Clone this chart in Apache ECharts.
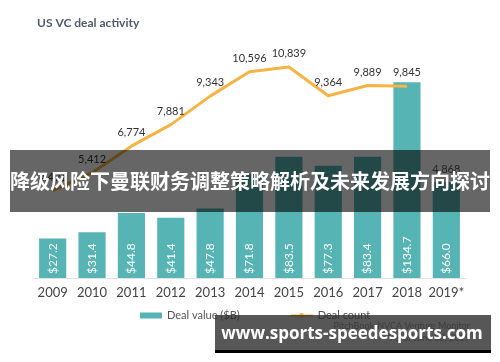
<!DOCTYPE html>
<html><head><meta charset="utf-8">
<script src="https://cdn.jsdelivr.net/npm/echarts@6/dist/echarts.min.js"></script>
<style>html,body{margin:0;padding:0;background:#fff}#c{width:500px;height:362px}</style>
</head><body><div id="c"></div>
<script>
const years = ['2009','2010','2011','2012','2013','2014','2015','2016','2017','2018','2019*'];
const dealValue = [27.2,31.4,44.8,41.4,47.8,71.8,83.5,77.3,83.4,134.7,66.0];
const dealCount = [4491,5412,6774,7881,9343,10596,10839,9364,9889,9845,null];
const dealCount2019 = [null,null,null,null,null,null,null,null,null,null,4868];

const chart = echarts.init(document.getElementById('c'));
const fnt = 'Lato, "Noto Sans", sans-serif';
const cntLabel = {show:true,position:'top',distance:8,formatter:p=>p.value.toLocaleString('en-US'),color:'#333',fontFamily:fnt,fontSize:11};
chart.setOption({
  animation:false,
  title:{text:'US VC deal activity',left:32,top:12,textStyle:{fontFamily:fnt,fontSize:12,fontWeight:'bold',color:'#505a6b'}},
  legend:{bottom:36,left:135,itemGap:50,itemWidth:22,itemHeight:6,textStyle:{fontFamily:fnt,fontSize:11,color:'#555'},
    data:[{name:'Deal value ($B)',icon:'rect'},{name:'Deal count'}]},
  grid:{left:33,right:34,top:60,bottom:84},
  xAxis:{type:'category',data:years,axisTick:{show:false},axisLine:{lineStyle:{color:'#e2e2e2'}},
    axisLabel:{interval:0,fontFamily:fnt,fontSize:13,color:'#444',margin:8}},
  yAxis:[{type:'value',min:0,max:150,show:false,splitLine:{show:false}},
         {type:'value',min:0,max:11200,show:false,splitLine:{show:false}}],
  series:[
    {name:'Deal value ($B)',type:'bar',data:dealValue,barWidth:'69%',itemStyle:{color:'#57b4b4'},
      label:{show:true,position:'insideBottom',rotate:90,align:'left',verticalAlign:'middle',distance:4,
        formatter:p=>'$'+p.value.toFixed(1),color:'#fff',fontFamily:fnt,fontSize:12}},
    {name:'Deal count',type:'line',yAxisIndex:1,data:dealCount,symbol:'circle',symbolSize:0.1,showSymbol:true,
      lineStyle:{color:'#f6b444',width:3},itemStyle:{color:'#f6b444'},label:cntLabel},
    {name:'c19',type:'scatter',yAxisIndex:1,data:dealCount2019,symbolSize:0.1,itemStyle:{color:'#f6b444'},label:cntLabel}
  ],
  graphic:[
    {type:'text',right:30,top:322,style:{text:'PitchBook-NVCA Venture Monitor',font:'9px Lato, sans-serif',fill:'#888',align:'right'}},
    {type:'text',right:30,top:334,style:{text:'*As of June 30, 2019',font:'9px Lato, sans-serif',fill:'#888',align:'right'}},
    {type:'rect',shape:{x:10,y:150,width:480,height:62},style:{fill:'rgba(0,0,0,0.6)'},z:100},
    {type:'text',x:250,y:181,style:{text:'降级风险下曼联财务调整策略解析及未来发展方向探讨',font:'bold 20px "Noto Sans CJK SC", sans-serif',fill:'#fff',align:'center',verticalAlign:'middle'},z:101},
    {type:'rect',shape:{x:215,y:315,width:276,height:38},style:{fill:'rgba(40,40,40,0.78)'},z:100},
    {type:'rect',shape:{x:215,y:350,width:276,height:3},style:{fill:'#000'},z:100},
    {type:'text',x:352,y:334,style:{text:'www.sports-speedesports.com',font:'bold 17px "Open Sans", "DejaVu Sans", sans-serif',fill:'#fff',align:'center',verticalAlign:'middle'},z:101}
  ]
});
</script></body></html>
